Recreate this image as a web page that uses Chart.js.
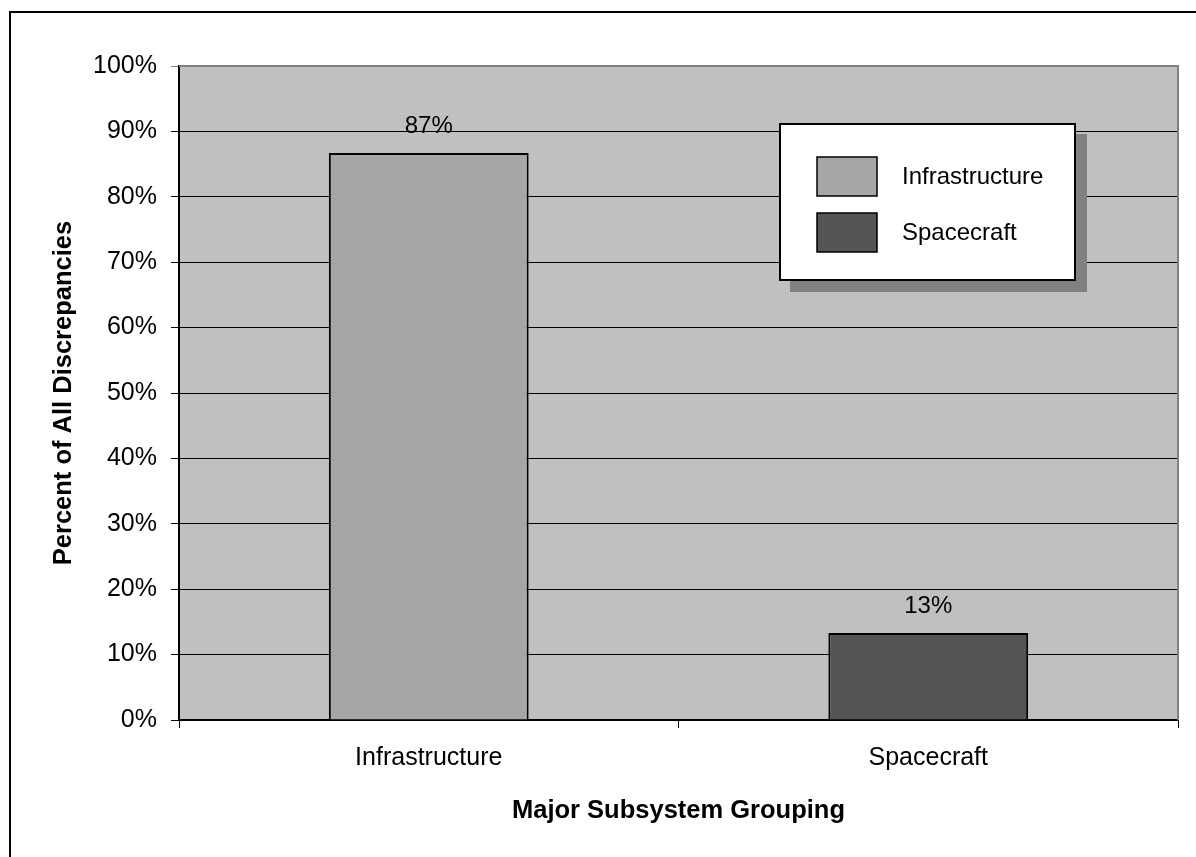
<!DOCTYPE html>
<html>
<head>
<meta charset="utf-8">
<script src="https://cdn.jsdelivr.net/npm/chart.js@4"></script>
<style>
  body { margin: 0; background: #fff; }
  canvas { display: block; }
</style>
</head>
<body>
<canvas id="discChart" width="1196" height="857"></canvas>
<script>
"use strict";

// chart data
const categories = ["Infrastructure", "Spacecraft"];
const infrastructureValues = [86.7, null];
const spacecraftValues = [null, 13.3];
const seriesNames = ["Infrastructure", "Spacecraft"];
const seriesColors = ["#a6a6a6", "#555555"];

const FONT = "'Liberation Sans', Arial, sans-serif";

// grey plot area, outer frame
const backdrop = {
  id: "backdrop",
  beforeDraw(chart) {
    const { ctx, chartArea: a } = chart;
    ctx.save();
    ctx.fillStyle = "#000";
    ctx.fillRect(9, 11, 2, chart.height - 11);
    ctx.fillRect(9, 11, chart.width - 9, 2);
    ctx.fillStyle = "#c0c0c0";
    ctx.fillRect(a.left, a.top, a.right - a.left, a.bottom - a.top);
    ctx.restore();
  },
  beforeDatasetsDraw(chart) {
    const { ctx, chartArea: a } = chart;
    ctx.save();
    ctx.strokeStyle = "#808080";
    ctx.lineWidth = 2;
    ctx.beginPath();
    ctx.moveTo(a.left, a.top);
    ctx.lineTo(a.right, a.top);
    ctx.lineTo(a.right, a.bottom);
    ctx.stroke();
    ctx.restore();
  },
};

// value labels above bars + boxed legend with shadow
const extras = {
  id: "extras",
  afterDatasetsDraw(chart) {
    const { ctx } = chart;
    ctx.save();
    ctx.font = "24px " + FONT;
    ctx.fillStyle = "#000";
    ctx.textAlign = "center";
    ctx.textBaseline = "middle";
    chart.data.datasets.forEach((ds, i) => {
      chart.getDatasetMeta(i).data.forEach((bar, j) => {
        const v = ds.data[j];
        if (v == null) return;
        ctx.fillText(Math.round(v) + "%", bar.x, bar.y - 27);
      });
    });

    // legend
    const lx = 780, ly = 124, lw = 295, lh = 156;
    ctx.fillStyle = "#808080";
    ctx.fillRect(lx + 10, ly + 10, lw + 2, lh + 2);
    ctx.fillStyle = "#fff";
    ctx.fillRect(lx, ly, lw, lh);
    ctx.strokeStyle = "#000";
    ctx.lineWidth = 2;
    ctx.strokeRect(lx, ly, lw, lh);
    ctx.textAlign = "left";
    chart.data.datasets.forEach((ds, i) => {
      const sy = ly + 33 + i * 56;
      ctx.fillStyle = ds.backgroundColor;
      ctx.fillRect(lx + 37, sy, 60, 39);
      ctx.lineWidth = 1.5;
      ctx.strokeRect(lx + 37, sy, 60, 39);
      ctx.fillStyle = "#000";
      ctx.fillText(ds.label, lx + 122, sy + 20);
    });
    ctx.restore();
  },
};

Chart.defaults.font.family = FONT;
Chart.defaults.color = "#000";

new Chart(document.getElementById("discChart"), {
  type: "bar",
  data: {
    labels: categories,
    datasets: [
      {
        label: seriesNames[0],
        data: infrastructureValues,
        backgroundColor: seriesColors[0],
        borderColor: "#000",
        borderWidth: 2,
      },
      {
        label: seriesNames[1],
        data: spacecraftValues,
        backgroundColor: seriesColors[1],
        borderColor: "#000",
        borderWidth: 2,
      },
    ],
  },
  options: {
    responsive: false,
    animation: false,
    grouped: false,
    categoryPercentage: 1,
    barPercentage: 0.4,
    layout: { padding: { top: 66, right: 18, left: 0, bottom: 0 } },
    plugins: {
      legend: { display: false },
      tooltip: { enabled: false },
    },
    scales: {
      x: {
        afterFit(scale) { scale.height = 137; },
        grid: { drawOnChartArea: false, drawTicks: true, tickLength: 8, color: "#000" },
        border: { color: "#000", width: 2 },
        ticks: { font: { size: 25 }, padding: 15, color: "#000" },
        title: {
          display: true,
          text: "Major Subsystem Grouping",
          font: { size: 25.5, weight: "bold" },
          padding: { top: 0, bottom: 31 },
          color: "#000",
        },
      },
      y: {
        min: 0,
        max: 100,
        afterFit(scale) { scale.width = 179; },
        grid: {
          tickLength: 8,
          color: (c) => (c.tick && c.tick.value === 100 ? "#808080" : "#000"),
        },
        border: { color: "#000", width: 2 },
        ticks: {
          stepSize: 10,
          font: { size: 25 },
          padding: 14,
          color: "#000",
          callback: (v) => v + "%",
        },
        title: {
          display: true,
          text: "Percent of All Discrepancies",
          font: { size: 25.5, weight: "bold" },
          padding: { top: 49, bottom: 0 },
          color: "#000",
        },
      },
    },
  },
  plugins: [backdrop, extras],
});
</script>
</body>
</html>
